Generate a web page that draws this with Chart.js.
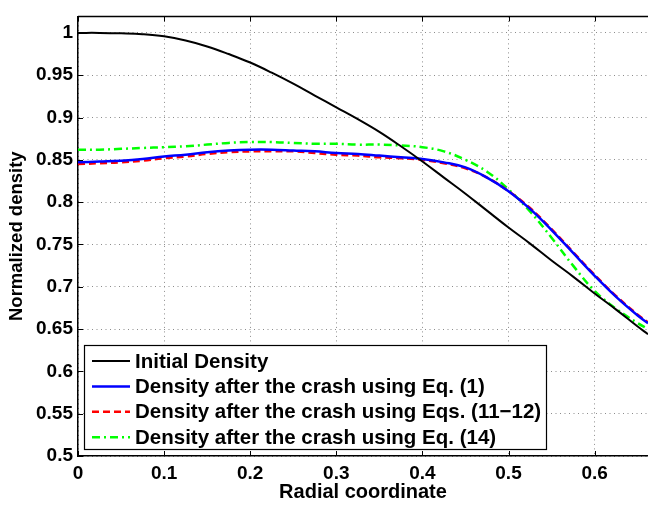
<!DOCTYPE html>
<html>
<head>
<meta charset="utf-8">
<script src="https://cdn.jsdelivr.net/npm/chart.js@4"></script>
<style>
  html, body { margin: 0; padding: 0; background: #fff; overflow: hidden; }
  canvas { display: block; }
</style>
</head>
<body>
<canvas id="densChart" width="648" height="508"></canvas>
<script>
// radial grid shared by all curves
const radial = [0, 0.025, 0.05, 0.075, 0.1, 0.125, 0.15, 0.175, 0.2, 0.225, 0.25, 0.275, 0.3, 0.325, 0.35,
  0.375, 0.4, 0.425, 0.45, 0.475, 0.5, 0.525, 0.55, 0.575, 0.6, 0.625, 0.65, 0.662];

const initialDensity = [1.0, 1.0, 0.9995, 0.9985, 0.996, 0.991, 0.984, 0.975, 0.965, 0.953, 0.940, 0.926, 0.912, 0.898, 0.883,
  0.866, 0.848, 0.829, 0.810, 0.790, 0.770, 0.751, 0.731, 0.712, 0.692, 0.673, 0.653, 0.644];
const densityEq1 = [0.847, 0.848, 0.849, 0.851, 0.854, 0.856, 0.859, 0.861, 0.862, 0.862, 0.861, 0.860, 0.858, 0.857, 0.855,
  0.853, 0.851, 0.847, 0.841, 0.829, 0.813, 0.792, 0.767, 0.740, 0.713, 0.688, 0.666, 0.657];
const densityEq1112 = [0.845, 0.846, 0.847, 0.849, 0.852, 0.854, 0.857, 0.859, 0.860, 0.860, 0.860, 0.858, 0.856, 0.855, 0.853,
  0.852, 0.850, 0.846, 0.840, 0.829, 0.813, 0.793, 0.768, 0.741, 0.714, 0.689, 0.667, 0.658];
const densityEq14 = [0.862, 0.862, 0.863, 0.864, 0.865, 0.866, 0.868, 0.870, 0.871, 0.871, 0.870, 0.869, 0.869, 0.868, 0.868,
  0.867, 0.865, 0.860, 0.850, 0.836, 0.815, 0.789, 0.758, 0.725, 0.695, 0.674, 0.657, 0.650];

const seriesLabels = [
  "Initial Density",
  "Density after the crash using Eq. (1)",
  "Density after the crash using Eqs. (11\u221212)",
  "Density after the crash using Eq. (14)"
];

const xTicks = [0, 0.1, 0.2, 0.3, 0.4, 0.5, 0.6];
const yTicks = [0.5, 0.55, 0.6, 0.65, 0.7, 0.75, 0.8, 0.85, 0.9, 0.95, 1];

const FONT = "'Liberation Sans', Arial, Helvetica, sans-serif";

function pts(ys) {
  return radial.map((r, i) => ({ x: r, y: ys[i] }));
}

function fmt(v) {
  return String(+v.toFixed(2));
}

// MATLAB-style box: top border, inward ticks, legend box inside the axes
const matlabBox = {
  id: "matlabBox",
  afterDatasetsDraw(chart) {
    const ctx = chart.ctx;
    const a = chart.chartArea;
    const xs = chart.scales.x, ys = chart.scales.y;
    ctx.save();
    ctx.strokeStyle = "#000";
    ctx.lineWidth = 1.5;
    ctx.beginPath();
    ctx.moveTo(a.left, a.top);
    ctx.lineTo(a.right, a.top);
    ctx.stroke();

    ctx.lineWidth = 1;
    ctx.beginPath();
    xTicks.forEach(t => {
      const px = Math.round(xs.getPixelForValue(t)) + 0.5;
      ctx.moveTo(px, a.bottom); ctx.lineTo(px, a.bottom - 5);
      ctx.moveTo(px, a.top); ctx.lineTo(px, a.top + 5);
    });
    yTicks.forEach(t => {
      const py = Math.round(ys.getPixelForValue(t)) + 0.5;
      ctx.moveTo(a.left, py); ctx.lineTo(a.left + 5, py);
    });
    ctx.stroke();

    // legend
    const bx = 84, by = 345, bw = 462, bh = 104;
    ctx.fillStyle = "#fff";
    ctx.fillRect(bx, by, bw, bh);
    ctx.strokeStyle = "#000";
    ctx.lineWidth = 1.2;
    ctx.strokeRect(bx + 0.5, by + 0.5, bw, bh);

    ctx.font = "bold 20.5px " + FONT;
    ctx.textBaseline = "middle";
    ctx.textAlign = "left";
    chart.data.datasets.forEach((ds, i) => {
      const cy = 361 + i * 25.4;
      ctx.save();
      ctx.strokeStyle = ds.borderColor;
      ctx.lineWidth = ds.borderWidth;
      ctx.setLineDash(ds.borderDash || []);
      ctx.beginPath();
      ctx.moveTo(92, cy);
      ctx.lineTo(130, cy);
      ctx.stroke();
      ctx.restore();
      ctx.fillStyle = "#000";
      ctx.fillText(ds.label, 135, cy + 1);
    });
    ctx.restore();
  }
};

const ctx = document.getElementById("densChart").getContext("2d");
new Chart(ctx, {
  type: "line",
  data: {
    datasets: [
      { label: seriesLabels[0], data: pts(initialDensity), borderColor: "#000000", borderWidth: 2 },
      { label: seriesLabels[1], data: pts(densityEq1), borderColor: "#0000ff", borderWidth: 2.5 },
      { label: seriesLabels[2], data: pts(densityEq1112), borderColor: "#ff0000", borderWidth: 2.5, borderDash: [7, 4] },
      { label: seriesLabels[3], data: pts(densityEq14), borderColor: "#00ff00", borderWidth: 2.5, borderDash: [8, 4, 2, 4] }
    ]
  },
  options: {
    responsive: false,
    animation: false,
    devicePixelRatio: 1,
    layout: { padding: { top: 4, left: 0, right: 0, bottom: 0 } },
    elements: {
      point: { radius: 0 },
      line: { tension: 0.4, fill: false }
    },
    plugins: {
      legend: { display: false },
      tooltip: { enabled: false }
    },
    scales: {
      x: {
        type: "linear",
        min: 0,
        max: 0.662,
        afterFit(scale) { scale.height = 52; },
        afterBuildTicks(scale) { scale.ticks = xTicks.map(v => ({ value: v })); },
        ticks: {
          color: "#000",
          padding: 6,
          maxRotation: 0,
          autoSkip: false,
          font: { family: FONT, size: 19, weight: "bold" },
          callback: v => fmt(v)
        },
        grid: { color: "#8c8c8c", lineWidth: 1, drawTicks: false },
        border: { color: "#000", width: 1.5, dash: [1, 3.5] },
        title: {
          display: true,
          text: "Radial coordinate",
          color: "#000",
          padding: { top: 0, bottom: 4 },
          font: { family: FONT, size: 20, weight: "bold" }
        }
      },
      y: {
        type: "linear",
        min: 0.5,
        max: 1.0195,
        afterFit(scale) { scale.width = 78; },
        afterBuildTicks(scale) { scale.ticks = yTicks.map(v => ({ value: v })); },
        ticks: {
          color: "#000",
          padding: 5,
          autoSkip: false,
          font: { family: FONT, size: 19, weight: "bold" },
          callback: v => fmt(v)
        },
        grid: { color: "#8c8c8c", lineWidth: 1, drawTicks: false },
        border: { color: "#000", width: 1.5, dash: [1, 3.5] },
        title: {
          display: true,
          text: "Normalized density",
          color: "#000",
          padding: { top: 6, bottom: 0 },
          font: { family: FONT, size: 18.5, weight: "bold" }
        }
      }
    }
  },
  plugins: [matlabBox]
});
</script>
</body>
</html>
